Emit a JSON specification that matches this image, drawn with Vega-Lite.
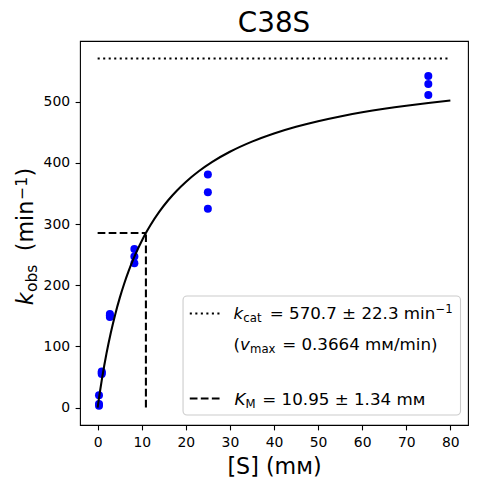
{
  "$schema": "https://vega.github.io/schema/vega-lite/v6.json",
  "width": 388,
  "height": 384,
  "autosize": {"type": "none"},
  "padding": {"left": 80, "top": 41, "right": 9, "bottom": 59},
  "background": "white",
  "title": {"text": "C38S", "fontSize": 27.8, "font": "DejaVu Sans", "fontWeight": "normal", "color": "black", "offset": 3, "anchor": "middle"},
  "config": {
    "view": {"stroke": "black", "strokeWidth": 1.1},
    "axis": {"labelFont": "DejaVu Sans", "labelFontSize": 13.9, "labelColor": "black", "tickColor": "black", "tickSize": 4.9, "tickWidth": 1.1, "labelPadding": 5.5, "domain": false, "grid": false, "titleFont": "DejaVu Sans", "titleFontSize": 22.2, "titleFontWeight": "normal", "titleColor": "black"},
    "text": {"font": "DejaVu Sans", "color": "black", "baseline": "alphabetic", "align": "left"}
  },
  "datasets": {
    "obs": [
      {"S": 0.309, "k": 3}, {"S": 0.309, "k": 6}, {"S": 0.309, "k": 20},
      {"S": 0.926, "k": 55}, {"S": 0.926, "k": 57}, {"S": 0.926, "k": 59},
      {"S": 2.778, "k": 148}, {"S": 2.778, "k": 151}, {"S": 2.778, "k": 153},
      {"S": 8.333, "k": 236}, {"S": 8.333, "k": 247}, {"S": 8.333, "k": 259},
      {"S": 25, "k": 325}, {"S": 25, "k": 352}, {"S": 25, "k": 381},
      {"S": 75, "k": 511}, {"S": 75, "k": 529}, {"S": 75, "k": 542}
    ],
    "fit": [
      {"S": 0, "k": 0}, {"S": 0.25, "k": 12.74}, {"S": 0.5, "k": 24.92}, {"S": 1, "k": 47.76},
      {"S": 1.5, "k": 68.76}, {"S": 2, "k": 88.14}, {"S": 3, "k": 122.73}, {"S": 4, "k": 152.7},
      {"S": 5, "k": 178.9}, {"S": 6, "k": 202.02}, {"S": 7, "k": 222.56}, {"S": 8, "k": 240.93},
      {"S": 9, "k": 257.46}, {"S": 10, "k": 272.41}, {"S": 11, "k": 286.0}, {"S": 12, "k": 298.41},
      {"S": 14, "k": 320.23}, {"S": 16, "k": 338.82}, {"S": 18, "k": 354.84}, {"S": 20, "k": 368.79},
      {"S": 23, "k": 386.63}, {"S": 26, "k": 401.58}, {"S": 30, "k": 418.1}, {"S": 35, "k": 434.7},
      {"S": 40, "k": 448.04}, {"S": 45, "k": 459.01}, {"S": 50, "k": 468.17}, {"S": 55, "k": 475.95},
      {"S": 60, "k": 482.62}, {"S": 65, "k": 488.42}, {"S": 70, "k": 493.5}, {"S": 75, "k": 498.0},
      {"S": 80, "k": 501.99}
    ],
    "ref": [
      {"kind": "kcat", "x": 0, "x2": 80, "y": 570.7, "y2": 570.7},
      {"kind": "KMh", "x": 0, "x2": 10.95, "y": 285.35, "y2": 285.35},
      {"kind": "KMv", "x": 10.95, "x2": 10.95, "y": 0, "y2": 285.35}
    ]
  },
  "layer": [
    {
      "data": {"name": "ref"},
      "mark": {"type": "rule", "color": "black", "strokeWidth": 2.08},
      "encoding": {
        "x": {"field": "x", "type": "quantitative", "scale": {"domain": [-4, 84], "nice": false, "zero": false}, "axis": {"values": [0, 10, 20, 30, 40, 50, 60, 70, 80], "title": "[S] (mᴍ)", "titlePadding": 6}},
        "x2": {"field": "x2"},
        "y": {"field": "y", "type": "quantitative", "scale": {"domain": [-28.5, 599.2], "nice": false, "zero": false}, "axis": {"values": [0, 100, 200, 300, 400, 500], "title": null}},
        "y2": {"field": "y2"},
        "strokeDash": {"field": "kind", "type": "nominal", "scale": {"domain": ["kcat", "KMh", "KMv"], "range": [[2.08, 3.44], [7.7, 3.33], [7.7, 3.33]]}, "legend": null}
      }
    },
    {
      "data": {"name": "obs"},
      "mark": {"type": "point", "filled": true, "color": "#0000ff", "size": 64, "opacity": 1, "shape": "circle"},
      "encoding": {
        "x": {"field": "S", "type": "quantitative"},
        "y": {"field": "k", "type": "quantitative"}
      }
    },
    {
      "data": {"name": "fit"},
      "mark": {"type": "line", "color": "black", "strokeWidth": 2.08, "interpolate": "monotone"},
      "encoding": {
        "x": {"field": "S", "type": "quantitative"},
        "y": {"field": "k", "type": "quantitative"}
      }
    },
    {
      "data": {"values": [{}]},
      "mark": {"type": "rect", "fill": "white", "fillOpacity": 0.8, "stroke": "#cccccc", "strokeWidth": 1.1, "cornerRadius": 4},
      "encoding": {
        "x": {"datum": 19.37, "type": "quantitative"},
        "x2": {"datum": 82.3},
        "y": {"datum": 182.4, "type": "quantitative"},
        "y2": {"datum": -12.1}
      }
    },
    {
      "data": {"values": [{}]},
      "mark": {"type": "rule", "color": "black", "strokeWidth": 2.08, "strokeDash": [2.08, 3.44]},
      "encoding": {
        "x": {"datum": 20.9, "type": "quantitative"},
        "x2": {"datum": 28.4},
        "y": {"datum": 153.8, "type": "quantitative"}
      }
    },
    {
      "data": {"values": [{}]},
      "mark": {"type": "rule", "color": "black", "strokeWidth": 2.08, "strokeDash": [7.7, 3.33]},
      "encoding": {
        "x": {"datum": 20.9, "type": "quantitative"},
        "x2": {"datum": 28.4},
        "y": {"datum": 14.9, "type": "quantitative"}
      }
    },
    {
      "data": {"values": [{}]},
      "layer": [
        {"mark": {"type": "text", "text": "k", "fontStyle": "italic", "fontSize": 16.7, "dx": 0}},
        {"mark": {"type": "text", "text": "cat", "fontSize": 11.7, "dx": 9.9, "dy": 3.5}},
        {"mark": {"type": "text", "text": "= 570.7 ± 22.3 min", "fontSize": 16.7, "dx": 36.3}},
        {"mark": {"type": "text", "text": "−1", "fontSize": 11.7, "dx": 202, "dy": -6}}
      ],
      "encoding": {
        "x": {"datum": 30.8, "type": "quantitative"},
        "y": {"datum": 144.8, "type": "quantitative"}
      }
    },
    {
      "data": {"values": [{}]},
      "layer": [
        {"mark": {"type": "text", "text": "(", "fontSize": 16.7, "dx": 0}},
        {"mark": {"type": "text", "text": "v", "fontStyle": "italic", "fontSize": 16.7, "dx": 6.5}},
        {"mark": {"type": "text", "text": "max", "fontSize": 11.7, "dx": 16.6, "dy": 3.5}},
        {"mark": {"type": "text", "text": "= 0.3664 mᴍ/min)", "fontSize": 16.7, "dx": 48.7}}
      ],
      "encoding": {
        "x": {"datum": 30.8, "type": "quantitative"},
        "y": {"datum": 94.1, "type": "quantitative"}
      }
    },
    {
      "data": {"values": [{}]},
      "layer": [
        {"mark": {"type": "text", "text": "K", "fontStyle": "italic", "fontSize": 16.7, "dx": 1}},
        {"mark": {"type": "text", "text": "M", "fontSize": 11.7, "dx": 12, "dy": 3.5}},
        {"mark": {"type": "text", "text": "= 10.95 ± 1.34 mᴍ", "fontSize": 16.7, "dx": 28.9}}
      ],
      "encoding": {
        "x": {"datum": 30.8, "type": "quantitative"},
        "y": {"datum": 4.25, "type": "quantitative"}
      }
    },
    {
      "data": {"values": [{}]},
      "layer": [
        {"mark": {"type": "text", "text": "k", "fontStyle": "italic", "fontSize": 22.2, "angle": 270, "dx": 0, "dy": -46.7}},
        {"mark": {"type": "text", "text": "obs", "fontSize": 15.5, "angle": 270, "dx": 13.2, "dy": -43}},
        {"mark": {"type": "text", "text": "(min", "fontSize": 22.2, "angle": 270, "dx": 54, "dy": -46.7}},
        {"mark": {"type": "text", "text": "−1", "fontSize": 15.5, "angle": 270, "dx": 105.5, "dy": -52.7}},
        {"mark": {"type": "text", "text": ")", "fontSize": 22.2, "angle": 270, "dx": 128.8, "dy": -46.7}}
      ],
      "encoding": {
        "x": {"datum": -4, "type": "quantitative"},
        "y": {"datum": 167.2, "type": "quantitative"}
      }
    }
  ]
}
